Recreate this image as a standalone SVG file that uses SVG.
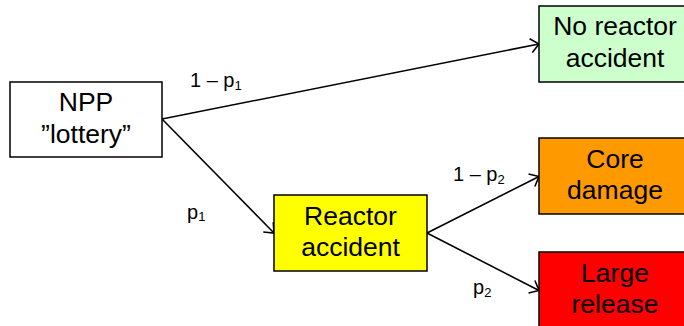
<svg xmlns="http://www.w3.org/2000/svg" width="684" height="326" viewBox="0 0 684 326">
<style>
.box{stroke:#000;stroke-width:1.5}
.t{font-family:"Liberation Sans",Arial,sans-serif;font-size:26.5px;fill:#000;text-anchor:middle}
.lbl{font-family:"Liberation Sans",Arial,sans-serif;font-size:20px;fill:#000}
.sub{font-size:13px}
.edge{stroke:#000;stroke-width:1.6;fill:none;marker-end:url(#arr)}
</style>
<defs>
<marker id="arr" markerUnits="userSpaceOnUse" viewBox="0 0 10 16" markerWidth="10" markerHeight="16" refX="9.2" refY="8" orient="auto">
<path d="M1,1 L9.2,8 L1,15" fill="none" stroke="#000" stroke-width="1.6"/>
</marker>
</defs>
<rect width="684" height="326" fill="#fff"/>
<g id="connectors">
<line class="edge" x1="162" y1="119" x2="539" y2="44"/>
<line class="edge" x1="162" y1="119" x2="274" y2="233"/>
<line class="edge" x1="427" y1="233" x2="539" y2="176.5"/>
<line class="edge" x1="427" y1="233" x2="539" y2="290.5"/>
<text class="lbl" x="190" y="87">1 – p<tspan class="sub" dy="3">1</tspan></text>
<text class="lbl" x="187" y="219">p<tspan class="sub" dy="2">1</tspan></text>
<text class="lbl" x="453" y="181">1 – p<tspan class="sub" dy="3">2</tspan></text>
<text class="lbl" x="473" y="294">p<tspan class="sub" dy="3">2</tspan></text>
</g>
<g id="npp">
<rect class="box" x="10" y="82" width="152" height="75" fill="#fff"/>
<text class="t" x="86" y="111">NPP</text>
<text class="t" x="86" y="143">”lottery”</text>
</g>
<g id="no-accident">
<rect class="box" x="539" y="6" width="152" height="76" fill="#ccffcc"/>
<text class="t" x="615" y="35">No reactor</text>
<text class="t" x="615" y="67">accident</text>
</g>
<g id="reactor-accident">
<rect class="box" x="274" y="195" width="153" height="76" fill="#ffff00"/>
<text class="t" x="350.5" y="225">Reactor</text>
<text class="t" x="350.5" y="256">accident</text>
</g>
<g id="core-damage">
<rect class="box" x="539" y="138" width="152" height="76" fill="#ff9900"/>
<text class="t" x="615" y="167.5">Core</text>
<text class="t" x="615" y="198.5">damage</text>
</g>
<g id="large-release">
<rect class="box" x="539" y="252" width="152" height="80" fill="#ff0000"/>
<text class="t" x="615" y="282">Large</text>
<text class="t" x="615" y="313">release</text>
</g>
</svg>
